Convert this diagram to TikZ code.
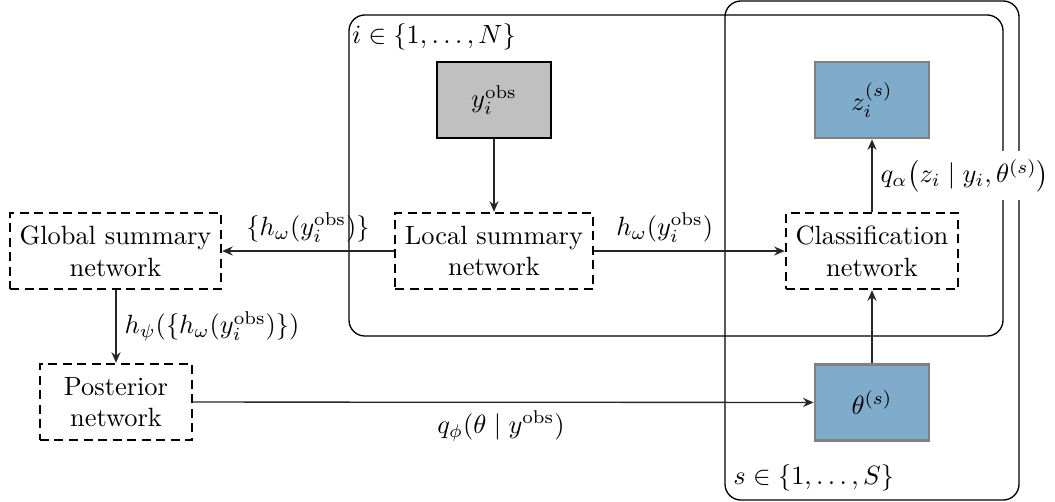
\documentclass[tikz,border=0pt]{standalone}
\usetikzlibrary{arrows.meta}
\definecolor{boxblue}{RGB}{127,172,203}
\definecolor{obsgray}{RGB}{192,192,192}
\begin{document}
\begin{tikzpicture}[x=0.3788pt,y=-0.3788pt,
  netbox/.style={draw=black,line width=0.9pt,dash pattern=on 3.4pt off 2.1pt,align=center,inner sep=1pt,minimum height=28.8pt},
  obsbox/.style={draw=black,line width=1pt,fill=obsgray,minimum width=43.2pt,minimum height=28.8pt,inner sep=0pt},
  latbox/.style={draw=black!50,line width=1pt,fill=boxblue,minimum width=43.2pt,minimum height=28.8pt,inner sep=0pt},
  plate/.style={draw=black,line width=0.5pt,rounded corners=6pt},
  conn/.style={draw=black!85,line width=0.5pt,-{Stealth[length=4pt,width=3.4pt,inset=1.3pt]}},
  lab/.style={inner sep=3pt}
]
\useasboundingbox (0,0) rectangle (1055,501);
% plates
\draw[plate] (349,15) rectangle (1003,336);
\draw[plate] (725,1) rectangle (1019,500);
\node[anchor=west,inner sep=1pt] (ilab) at (349,37) {$i \in \{1,\ldots,N\}$};
\node[anchor=west,inner sep=3pt] (slab) at (725,478) {$s \in \{1,\ldots,S\}$};
% nodes
\node[obsbox] (yobs) at (494,100) {$y_i^{\mathrm{obs}}$};
\node[latbox] (z) at (872,100) {$z_i^{(s)}$};
\node[latbox] (theta) at (872,402.5) {$\theta^{(s)}$};
\node[netbox,minimum width=75pt] (local) at (494,251) {Local summary\\network};
\node[netbox,minimum width=79.9pt] (global) at (115.5,251) {Global summary\\network};
\node[netbox,minimum width=65.2pt] (class) at (872,251) {Classification\\network};
\node[netbox,minimum width=57.6pt] (post) at (116,402) {Posterior\\network};
% connectors
\draw[conn] (yobs) -- (local);
\draw[conn] (local) -- node[above,lab] {$\{h_\omega(y_i^{\mathrm{obs}})\}$} (global);
\draw[conn] (local) -- node[above,lab,pos=0.37] {$h_\omega(y_i^{\mathrm{obs}})$} (class);
\draw[conn] (global.south -| post.north) -- node[right,lab] {$h_\psi(\{h_\omega(y_i^{\mathrm{obs}})\})$} (post);
\draw[conn] (post) -- node[below,lab,pos=0.496] {$q_\phi(\theta \mid y^{\mathrm{obs}})$} (theta);
\draw[conn] (theta) -- (class);
\draw[conn] (class) -- node[right,lab,fill=white] {$q_\alpha\big(z_i \mid y_i, \theta^{(s)}\big)$} (z);
\end{tikzpicture}
\end{document}
